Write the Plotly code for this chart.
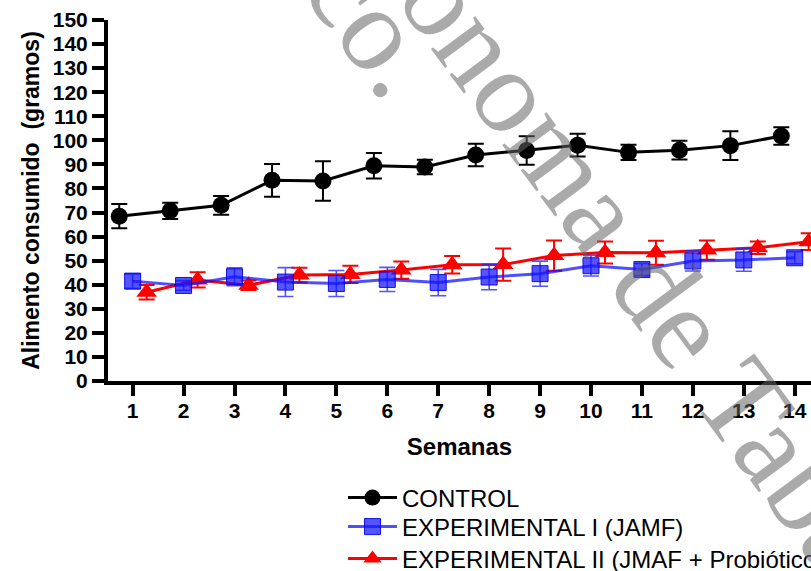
import math
import plotly.graph_objects as go

weeks = list(range(1, 15))
control = [68.5, 70.7, 73.0, 83.4, 83.1, 89.4, 88.9, 93.9, 95.8, 98.0, 95.0, 95.9, 97.8, 101.8]
control_err = [5.0, 3.4, 3.9, 6.8, 8.2, 5.3, 3.0, 4.7, 5.9, 4.7, 3.2, 3.9, 6.0, 3.6]
exp1 = [41.5, 39.7, 43.3, 41.1, 40.5, 42.2, 40.9, 43.2, 44.6, 47.9, 46.3, 49.9, 50.3, 51.2]
exp1_err = [3.0, 2.0, 3.7, 6.0, 5.4, 5.0, 5.5, 5.3, 5.2, 4.3, 2.5, 4.2, 4.7, 2.5]
exp2 = [36.9, 42.0, 39.8, 44.0, 44.3, 46.1, 48.3, 48.4, 52.1, 53.4, 53.3, 54.4, 55.4, 57.9]
exp2_err = [3.0, 3.2, 2.0, 3.1, 3.6, 3.6, 3.6, 6.7, 6.3, 4.6, 5.0, 4.0, 2.6, 3.5]

names = ["CONTROL", "EXPERIMENTAL I (JAMF)", "EXPERIMENTAL II (JMAF + Probiótico)"]
y_ticks = list(range(0, 151, 10))
watermark = ["Universidad Juárez Autónoma de Tabasco.", "México."]

FONT = "Arial, Liberation Sans, Helvetica, sans-serif"
off_c, off_1, off_2 = -0.263, 0.0, 0.275

# plot area geometry (px)
L, T, B = 108, 20, 190
W, H = 811 - L, 571 - T - B


def py(p):
    return (571 - B - p) / H


def px(p):
    return (p - L) / W


fig = go.Figure()
fig.add_trace(go.Scatter(
    x=[w + off_c for w in weeks], y=control, name=names[0], mode="lines+markers",
    line=dict(color="black", width=3),
    marker=dict(symbol="circle", size=17, color="black"),
    error_y=dict(type="data", array=control_err, color="black", thickness=2, width=8),
    legend="legend"))
fig.add_trace(go.Scatter(
    x=[w + off_2 for w in weeks], y=exp2, name=names[2], mode="lines+markers",
    line=dict(color="#ff0000", width=3),
    marker=dict(symbol="triangle-up", size=18, color="#ff0000"),
    error_y=dict(type="data", array=exp2_err, color="#ff0000", thickness=2, width=8),
    legend="legend3"))
fig.add_trace(go.Scatter(
    x=[w + off_1 for w in weeks], y=exp1, name=names[1], mode="lines+markers",
    line=dict(color="rgba(20,20,255,0.75)", width=3),
    marker=dict(symbol="square", size=16, color="rgba(20,20,255,0.72)",
                line=dict(color="rgba(0,0,230,0.9)", width=1)),
    error_y=dict(type="data", array=exp1_err, color="rgba(40,40,255,0.8)", thickness=1.6, width=8),
    legend="legend2"))

# watermark (two rotated lines)
ang = 53.5
ca, sa = math.cos(math.radians(ang)), math.sin(math.radians(ang))
wm_color = "rgba(100,100,100,0.55)"
wm_font = dict(family="Liberation Serif, Times New Roman, serif", size=120, color=wm_color)
wm_pos = [(357 + 12 * ca, -119 + 12 * sa), (299, -78)]
for txt, (cx, cy) in zip(watermark, wm_pos):
    fig.add_annotation(text=txt, xref="paper", yref="paper",
                       x=px(cx), y=py(cy), xanchor="center", yanchor="middle",
                       textangle=ang, showarrow=False, font=wm_font)

leg_common = dict(xanchor="left", yanchor="middle", x=px(343),
                  font=dict(family=FONT, size=24, color="black"),
                  itemwidth=49, bgcolor="rgba(0,0,0,0)")

fig.update_layout(
    width=811, height=571,
    margin=dict(l=L, r=0, t=T, b=B, autoexpand=False),
    plot_bgcolor="white", paper_bgcolor="white",
    font=dict(family=FONT, color="black"),
    showlegend=True,
    legend=dict(y=py(498), **leg_common),
    legend2=dict(y=py(527), **leg_common),
    legend3=dict(y=py(559), **leg_common),
    xaxis=dict(range=[0.516, 14.32], tickvals=weeks, ticktext=[str(w) for w in weeks],
               showgrid=False, zeroline=False, showline=True, linecolor="black", linewidth=4,
               ticks="outside", ticklen=11, tickwidth=3.5, tickcolor="black",
               ticklabelstandoff=-3,
               tickfont=dict(family=FONT, size=21, weight="bold"),
               title=dict(text="Semanas", font=dict(family=FONT, size=24, weight="bold"), standoff=18)),
    yaxis=dict(range=[0, 150], tickvals=y_ticks, showgrid=False, zeroline=False,
               showline=True, linecolor="black", linewidth=4,
               ticks="outside", ticklen=12, tickwidth=3.5, tickcolor="black",
               tickfont=dict(family=FONT, size=21, weight="bold"),
               title=dict(text="Alimento consumido\u00a0 (gramos)",
                          font=dict(family=FONT, size=23, weight="bold"), standoff=8)),
)

fig.write_html("out.html")
